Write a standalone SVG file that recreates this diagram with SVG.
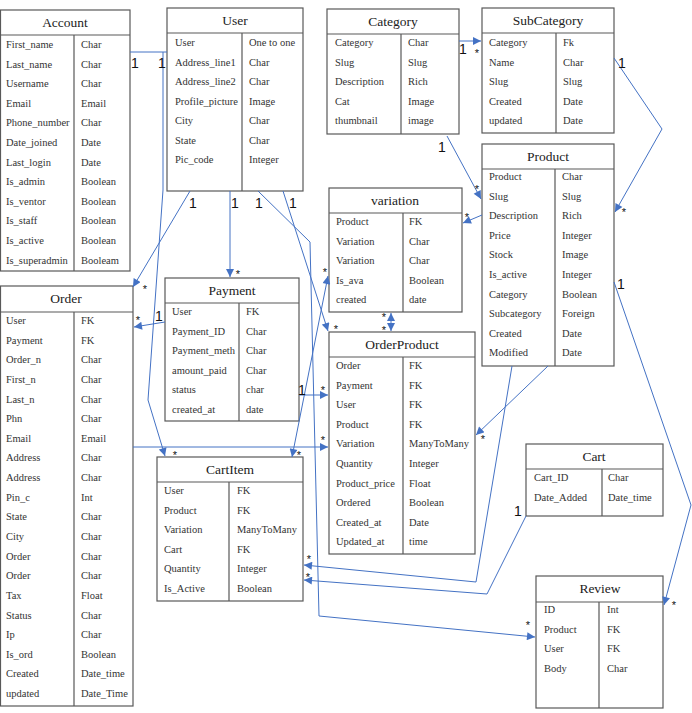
<svg xmlns="http://www.w3.org/2000/svg" width="692" height="713" viewBox="0 0 692 713">
<style>
.box{fill:#fff;stroke:#595959;stroke-width:1.2}
.ln{stroke:#595959;stroke-width:1.2;fill:none}
.t{font-family:'Liberation Serif','Times New Roman',serif;font-size:10.5px;font-weight:400;fill:#333}
.h{font-family:'Liberation Serif','Times New Roman',serif;font-size:13.5px;font-weight:400;fill:#222;text-anchor:middle}
.c{fill:none;stroke:#4472c4;stroke-width:1}
.one{font-family:'Liberation Sans',Arial,sans-serif;font-size:14px;fill:#111;text-anchor:middle}
.st{font-family:'Liberation Sans',Arial,sans-serif;font-size:11px;fill:#111;text-anchor:middle}
</style>
<defs>
<marker id="ah" viewBox="0 0 10 10" refX="10" refY="5" markerWidth="9" markerHeight="8" orient="auto-start-reverse" markerUnits="userSpaceOnUse"><path d="M0,0 L10,5 L0,10 z" fill="#4472c4"/></marker>
</defs>
<rect width="692" height="713" fill="#fff"/>

<g id="Account">
<rect class="box" x="0.5" y="10" width="129.5" height="261"/>
<path class="ln" d="M0.5,35 H130 M74,35 V271"/>
<text class="h" x="65" y="27">Account</text>
<g class="t">
<text x="6" y="48">First_name</text><text x="81" y="48">Char</text>
<text x="6" y="67.6">Last_name</text><text x="81" y="67.6">Char</text>
<text x="6" y="87.2">Username</text><text x="81" y="87.2">Char</text>
<text x="6" y="106.8">Email</text><text x="81" y="106.8">Email</text>
<text x="6" y="126.4">Phone_number</text><text x="81" y="126.4">Char</text>
<text x="6" y="146">Date_joined</text><text x="81" y="146">Date</text>
<text x="6" y="165.6">Last_login</text><text x="81" y="165.6">Date</text>
<text x="6" y="185.2">Is_admin</text><text x="81" y="185.2">Boolean</text>
<text x="6" y="204.8">Is_ventor</text><text x="81" y="204.8">Boolean</text>
<text x="6" y="224.4">Is_staff</text><text x="81" y="224.4">Boolean</text>
<text x="6" y="244">Is_active</text><text x="81" y="244">Boolean</text>
<text x="6" y="263.6">Is_superadmin</text><text x="81" y="263.6">Booleam</text>
</g>
</g>

<g id="User">
<rect class="box" x="167" y="8" width="136" height="183"/>
<path class="ln" d="M167,33 H303 M242,33 V191"/>
<text class="h" x="235" y="25">User</text>
<g class="t">
<text x="175" y="46">User</text><text x="249" y="46">One to one</text>
<text x="175" y="65.5">Address_line1</text><text x="249" y="65.5">Char</text>
<text x="175" y="85">Address_line2</text><text x="249" y="85">Char</text>
<text x="175" y="104.5">Profile_picture</text><text x="249" y="104.5">Image</text>
<text x="175" y="124">City</text><text x="249" y="124">Char</text>
<text x="175" y="143.5">State</text><text x="249" y="143.5">Char</text>
<text x="175" y="163">Pic_code</text><text x="249" y="163">Integer</text>
</g>
</g>

<g id="Category">
<rect class="box" x="327" y="9" width="132" height="125"/>
<path class="ln" d="M327,34 H459 M401,34 V134"/>
<text class="h" x="393" y="26">Category</text>
<g class="t">
<text x="335" y="46">Category</text><text x="408" y="46">Char</text>
<text x="335" y="65.6">Slug</text><text x="408" y="65.6">Slug</text>
<text x="335" y="85.2">Description</text><text x="408" y="85.2">Rich</text>
<text x="335" y="104.8">Cat</text><text x="408" y="104.8">Image</text>
<text x="335" y="124.4">thumbnail</text><text x="408" y="124.4">image</text>
</g>
</g>

<g id="SubCategory">
<rect class="box" x="482" y="8" width="132" height="125"/>
<path class="ln" d="M482,33 H614 M556,33 V133"/>
<text class="h" x="548" y="25">SubCategory</text>
<g class="t">
<text x="489" y="46">Category</text><text x="563" y="46">Fk</text>
<text x="489" y="65.6">Name</text><text x="563" y="65.6">Char</text>
<text x="489" y="85.2">Slug</text><text x="563" y="85.2">Slug</text>
<text x="489" y="104.8">Created</text><text x="563" y="104.8">Date</text>
<text x="489" y="124.4">updated</text><text x="563" y="124.4">Date</text>
</g>
</g>

<g id="Product">
<rect class="box" x="482" y="144" width="132" height="222"/>
<path class="ln" d="M482,169 H614 M555,169 V366"/>
<text class="h" x="548" y="161">Product</text>
<g class="t">
<text x="489" y="180">Product</text><text x="562" y="180">Char</text>
<text x="489" y="199.6">Slug</text><text x="562" y="199.6">Slug</text>
<text x="489" y="219.2">Description</text><text x="562" y="219.2">Rich</text>
<text x="489" y="238.8">Price</text><text x="562" y="238.8">Integer</text>
<text x="489" y="258.4">Stock</text><text x="562" y="258.4">Image</text>
<text x="489" y="278">Is_active</text><text x="562" y="278">Integer</text>
<text x="489" y="297.6">Category</text><text x="562" y="297.6">Boolean</text>
<text x="489" y="317.2">Subcategory</text><text x="562" y="317.2">Foreign</text>
<text x="489" y="336.8">Created</text><text x="562" y="336.8">Date</text>
<text x="489" y="356.4">Modified</text><text x="562" y="356.4">Date</text>
</g>
</g>

<g id="variation">
<rect class="box" x="329" y="188" width="133" height="124"/>
<path class="ln" d="M329,213 H462 M403,213 V312"/>
<text class="h" x="395" y="205">variation</text>
<g class="t">
<text x="336" y="225">Product</text><text x="409" y="225">FK</text>
<text x="336" y="244.6">Variation</text><text x="409" y="244.6">Char</text>
<text x="336" y="264.2">Variation</text><text x="409" y="264.2">Char</text>
<text x="336" y="283.8">Is_ava</text><text x="409" y="283.8">Boolean</text>
<text x="336" y="303.4">created</text><text x="409" y="303.4">date</text>
</g>
</g>

<g id="Payment">
<rect class="box" x="165" y="278" width="134" height="143"/>
<path class="ln" d="M165,303 H299 M239,303 V421"/>
<text class="h" x="232" y="295">Payment</text>
<g class="t">
<text x="172" y="315">User</text><text x="246" y="315">FK</text>
<text x="172" y="334.6">Payment_ID</text><text x="246" y="334.6">Char</text>
<text x="172" y="354.2">Payment_meth</text><text x="246" y="354.2">Char</text>
<text x="172" y="373.8">amount_paid</text><text x="246" y="373.8">Char</text>
<text x="172" y="393.4">status</text><text x="246" y="393.4">char</text>
<text x="172" y="413">created_at</text><text x="246" y="413">date</text>
</g>
</g>

<g id="OrderProduct">
<rect class="box" x="329" y="332" width="146" height="222"/>
<path class="ln" d="M329,357 H475 M403,357 V554"/>
<text class="h" x="402" y="349">OrderProduct</text>
<g class="t">
<text x="336" y="369">Order</text><text x="409" y="369">FK</text>
<text x="336" y="388.6">Payment</text><text x="409" y="388.6">FK</text>
<text x="336" y="408.2">User</text><text x="409" y="408.2">FK</text>
<text x="336" y="427.8">Product</text><text x="409" y="427.8">FK</text>
<text x="336" y="447.4">Variation</text><text x="409" y="447.4">ManyToMany</text>
<text x="336" y="467">Quantity</text><text x="409" y="467">Integer</text>
<text x="336" y="486.6">Product_price</text><text x="409" y="486.6">Float</text>
<text x="336" y="506.2">Ordered</text><text x="409" y="506.2">Boolean</text>
<text x="336" y="525.8">Created_at</text><text x="409" y="525.8">Date</text>
<text x="336" y="545.4">Updated_at</text><text x="409" y="545.4">time</text>
</g>
</g>

<g id="Order">
<rect class="box" x="0.5" y="286" width="132.5" height="420"/>
<path class="ln" d="M0.5,312 H133 M74,312 V706"/>
<text class="h" x="66" y="303">Order</text>
<g class="t">
<text x="6" y="324">User</text><text x="81" y="324">FK</text>
<text x="6" y="343.6">Payment</text><text x="81" y="343.6">FK</text>
<text x="6" y="363.3">Order_n</text><text x="81" y="363.3">Char</text>
<text x="6" y="382.9">First_n</text><text x="81" y="382.9">Char</text>
<text x="6" y="402.5">Last_n</text><text x="81" y="402.5">Char</text>
<text x="6" y="422.2">Phn</text><text x="81" y="422.2">Char</text>
<text x="6" y="441.8">Email</text><text x="81" y="441.8">Email</text>
<text x="6" y="461.4">Address</text><text x="81" y="461.4">Char</text>
<text x="6" y="481">Address</text><text x="81" y="481">Char</text>
<text x="6" y="500.7">Pin_c</text><text x="81" y="500.7">Int</text>
<text x="6" y="520.3">State</text><text x="81" y="520.3">Char</text>
<text x="6" y="539.9">City</text><text x="81" y="539.9">Char</text>
<text x="6" y="559.6">Order</text><text x="81" y="559.6">Char</text>
<text x="6" y="579.2">Order</text><text x="81" y="579.2">Char</text>
<text x="6" y="598.8">Tax</text><text x="81" y="598.8">Float</text>
<text x="6" y="618.5">Status</text><text x="81" y="618.5">Char</text>
<text x="6" y="638.1">Ip</text><text x="81" y="638.1">Char</text>
<text x="6" y="657.7">Is_ord</text><text x="81" y="657.7">Boolean</text>
<text x="6" y="677.3">Created</text><text x="81" y="677.3">Date_time</text>
<text x="6" y="697">updated</text><text x="81" y="697">Date_Time</text>
</g>
</g>

<g id="CartItem">
<rect class="box" x="157" y="457" width="146" height="144"/>
<path class="ln" d="M157,482 H303 M229,482 V601"/>
<text class="h" x="230" y="474">CartItem</text>
<g class="t">
<text x="164" y="494">User</text><text x="237" y="494">FK</text>
<text x="164" y="513.6">Product</text><text x="237" y="513.6">FK</text>
<text x="164" y="533.2">Variation</text><text x="237" y="533.2">ManyToMany</text>
<text x="164" y="552.8">Cart</text><text x="237" y="552.8">FK</text>
<text x="164" y="572.4">Quantity</text><text x="237" y="572.4">Integer</text>
<text x="164" y="592">Is_Active</text><text x="237" y="592">Boolean</text>
</g>
</g>

<g id="Cart">
<rect class="box" x="526" y="444" width="137" height="72"/>
<path class="ln" d="M526,469 H663 M602,469 V516"/>
<text class="h" x="594" y="461">Cart</text>
<g class="t">
<text x="534" y="481">Cart_ID</text><text x="608" y="481">Char</text>
<text x="534" y="501">Date_Added</text><text x="608" y="501">Date_time</text>
</g>
</g>

<g id="Review">
<rect class="box" x="536" y="576" width="127" height="132"/>
<path class="ln" d="M536,602 H663 M599,602 V708"/>
<text class="h" x="600" y="593">Review</text>
<g class="t">
<text x="544" y="613">ID</text><text x="607" y="613">Int</text>
<text x="544" y="632.6">Product</text><text x="607" y="632.6">FK</text>
<text x="544" y="652.2">User</text><text x="607" y="652.2">FK</text>
<text x="544" y="671.8">Body</text><text x="607" y="671.8">Char</text>
</g>
</g>

<g id="connectors">
<path class="c" d="M130,52 H167"/>
<path class="c" d="M163,52 L163,190 L148,400 L165,456" marker-end="url(#ah)"/>
<path class="c" d="M190,191 L133,287" marker-end="url(#ah)"/>
<path class="c" d="M230,191 V277" marker-end="url(#ah)"/>
<path class="c" d="M258,191 L310,242 L319,616 L535,637" marker-end="url(#ah)"/>
<path class="c" d="M283,191 L328,331" marker-end="url(#ah)"/>
<path class="c" d="M165,322 L134,327" marker-end="url(#ah)"/>
<path class="c" d="M133,447 H328" marker-end="url(#ah)"/>
<path class="c" d="M299,395 H328" marker-end="url(#ah)"/>
<path class="c" d="M459,41 H481" marker-end="url(#ah)"/>
<path class="c" d="M447,136 L481,199" marker-end="url(#ah)"/>
<path class="c" d="M614,58 L662,129 L615,212" marker-end="url(#ah)"/>
<path class="c" d="M482,215 L463,223" marker-end="url(#ah)"/>
<path class="c" d="M391,313 V331" marker-start="url(#ah)" marker-end="url(#ah)"/>
<path class="c" d="M292,457 L328,276" marker-start="url(#ah)" marker-end="url(#ah)"/>
<path class="c" d="M548,366 L476,435" marker-end="url(#ah)"/>
<path class="c" d="M512,366 L476,582 L304,565" marker-end="url(#ah)"/>
<path class="c" d="M526,516 L487,594 L304,580" marker-end="url(#ah)"/>
<path class="c" d="M614,282 L691,505 L664,605" marker-end="url(#ah)"/>

<g class="one">
<text x="135" y="68">1</text>
<text x="162" y="68">1</text>
<text x="193" y="208">1</text>
<text x="235" y="208">1</text>
<text x="259" y="208">1</text>
<text x="293" y="208">1</text>
<text x="463" y="54">1</text>
<text x="442" y="152">1</text>
<text x="622" y="68">1</text>
<text x="621" y="289">1</text>
<text x="518" y="516">1</text>
<text x="159" y="321">1</text>
<text x="302" y="395">1</text>
</g>
<g class="st">
<text x="145" y="293">*</text>
<text x="138" y="324">*</text>
<text x="238" y="278">*</text>
<text x="336" y="333">*</text>
<text x="384" y="321">*</text>
<text x="384" y="334">*</text>
<text x="325" y="276">*</text>
<text x="323" y="394">*</text>
<text x="323" y="444">*</text>
<text x="175" y="459">*</text>
<text x="299" y="459">*</text>
<text x="309" y="563">*</text>
<text x="308" y="581">*</text>
<text x="528" y="629">*</text>
<text x="674" y="609">*</text>
<text x="477" y="193">*</text>
<text x="624" y="216">*</text>
<text x="467" y="221">*</text>
<text x="483" y="443">*</text>
<text x="477" y="57">*</text>
</g>
</g>
</svg>
